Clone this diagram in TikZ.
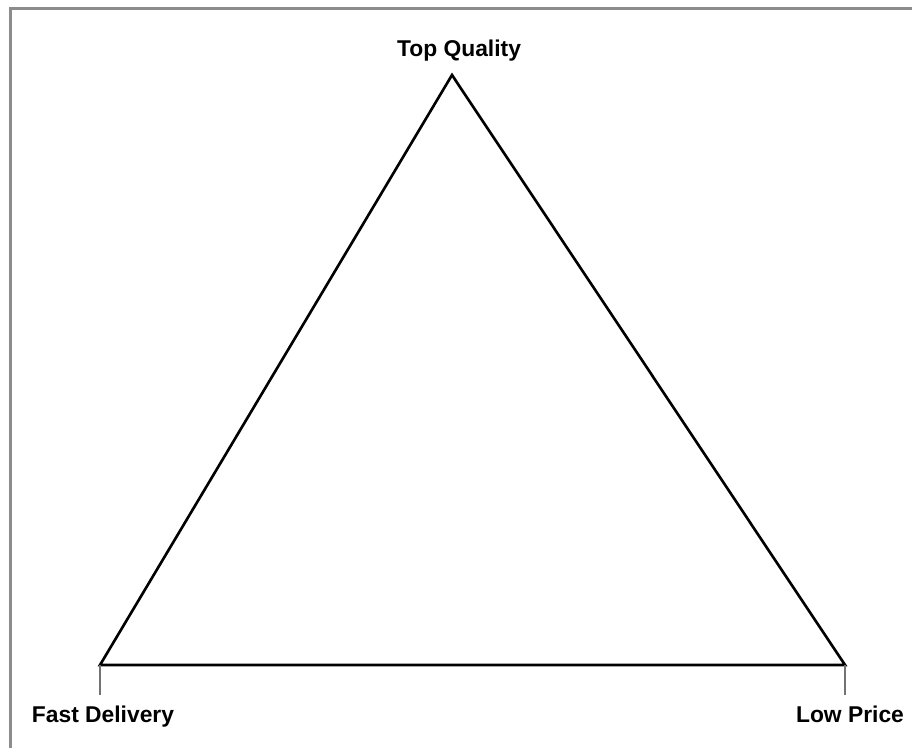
\documentclass[tikz,border=0pt]{standalone}
\usepackage{fontspec}
\setmainfont{Liberation Sans}
\usetikzlibrary{positioning}
\tikzset{corner/.style={font=\fontsize{13}{15}\selectfont\bfseries,anchor=base,inner sep=0pt},
  side/.style={line width=1.5pt,line join=miter},
  tick/.style={draw=black!55,line width=0.6pt}}
\begin{document}
\begin{tikzpicture}[x=0.02cm,y=-0.02cm]
\useasboundingbox (0,0) rectangle (912,748);
% frame
\draw[black!45,line width=1.8pt] (10.5,748) -- (10.5,8.5) -- (912,8.5);
\coordinate (top) at (452,75);
\coordinate (fast) at (100,665);
\coordinate (low) at (845,665);
\coordinate (fastend) at (100,695);
\coordinate (lowend) at (845,695);
\draw[side] (top) -- (low) -- (fast) -- cycle;
\draw[tick] (fast) -- (fastend); \draw[tick] (low) -- (lowend);
\node[corner] (qual) at (459,56) {Top Quality};
\node[corner] (deliv) at (103,722) {Fast Delivery};
\node[corner] (price) at (850,722) {Low Price};
\end{tikzpicture}
\end{document}
